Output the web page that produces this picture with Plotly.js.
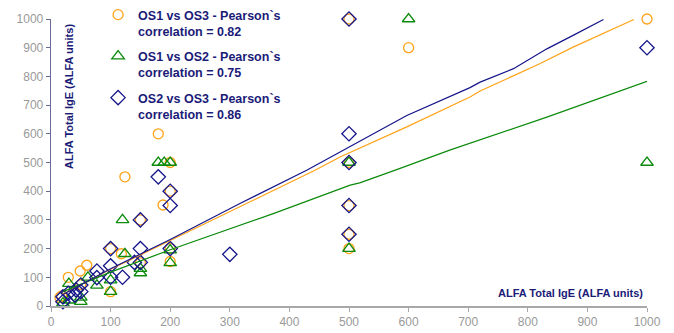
<!DOCTYPE html>
<html>
<head>
<meta charset="utf-8">
<script src="https://cdn.plot.ly/plotly-3.0.1.min.js"></script>
<style>html,body{margin:0;padding:0;background:#fff;}#chart{width:674px;height:333px;}</style>
</head>
<body>
<div id="chart"></div>
<script>
// ---- Data ----
var seriesNames = [
  "OS1 vs OS3 - Pearson`s<br>correlation = 0.82",
  "OS1 vs OS2 - Pearson`s<br>correlation = 0.75",
  "OS2 vs OS3 - Pearson`s<br>correlation = 0.86"
];
var axisTitle = "ALFA Total IgE (ALFA units)";
var tickVals = [0,100,200,300,400,500,600,700,800,900,1000];

// OS1 vs OS3 (orange circles)
var os13X = [1000, 600, 500, 500, 500, 500, 500, 180, 124, 188, 200, 200, 150, 100, 118, 100, 200, 200, 60, 49, 29, 18, 150, 50, 15];
var os13Y = [1000, 900, 1000, 500, 350, 250, 200, 600, 450, 352, 400, 500, 300, 200, 182, 50, 200, 155, 142, 122, 100, 35, 150, 75, 30];

// OS1 vs OS2 (green triangles)
var os12X = [600, 1000, 500, 500, 180, 190, 200, 120, 124, 200, 200, 150, 150, 100, 100, 77, 62, 30, 20, 30, 50, 50];
var os12Y = [1000, 500, 500, 200, 500, 500, 500, 300, 182, 195, 150, 130, 115, 90, 50, 72, 100, 78, 10, 20, 15, 30];

// OS2 vs OS3 (navy diamonds)
var os23X = [500, 1000, 500, 500, 500, 500, 300, 180, 200, 200, 150, 100, 150, 200, 150, 140, 120, 100, 100, 77, 77, 50, 50, 42, 40, 29, 20, 20];
var os23Y = [1000, 900, 600, 500, 350, 250, 180, 450, 400, 350, 300, 200, 200, 200, 152, 152, 100, 100, 140, 122, 99, 73, 50, 56, 38, 44, 32, 15];

// Fitted lines
var fit13X = [20, 100, 200, 317, 443, 485, 597, 703, 720, 820, 876, 978];
var fit13Y = [42, 128, 228, 345, 473, 519, 624, 728, 749, 844, 902, 998];
var fit12X = [20, 100, 200, 317, 373, 502, 518, 580, 669, 832, 1000];
var fit12Y = [50, 118, 196, 282, 322, 421, 429, 475, 543, 658, 783];
var fit23X = [20, 100, 200, 317, 429, 485, 541, 597, 703, 720, 776, 832, 876, 927];
var fit23Y = [40, 130, 232, 357, 473, 537, 601, 664, 761, 780, 827, 896, 943, 998];

// ---- Styles ----
var cOrange = "#FFA319", cGreen = "#0B8A0B", cNavy = "#15158A";
var txtNavy = "#1B1B78";

var sym = ["circle-open", "triangle-up-open", "diamond-open"];
var cols = [cOrange, cGreen, cNavy];
var xs = [os13X, os12X, os23X], ys = [os13Y, os12Y, os23Y];
var sizes = [10, 11, 11];
var groups = ["a", "b", "c"];

var traces = [];
for (var j = 0; j < 3; j++) {
  traces.push({x: xs[j], y: ys[j], type: "scatter", mode: "markers", name: seriesNames[j],
    legendgroup: groups[j], cliponaxis: false,
    marker: {symbol: sym[j], size: sizes[j], color: cols[j], line: {width: 1.3, color: cols[j]}}});
}
traces.push({x: fit13X, y: fit13Y, type: "scatter", mode: "lines", showlegend: false, line: {color: cOrange, width: 1.2}});
traces.push({x: fit12X, y: fit12Y, type: "scatter", mode: "lines", showlegend: false, line: {color: cGreen, width: 1.2}});
traces.push({x: fit23X, y: fit23Y, type: "scatter", mode: "lines", showlegend: false, line: {color: cNavy, width: 1.2}});

var layout = {
  width: 674, height: 333,
  margin: {l: 51, r: 27, t: 19, b: 27, pad: 0, autoexpand: false},
  paper_bgcolor: "#fff", plot_bgcolor: "#fff",
  font: {family: "Liberation Sans, Arial, sans-serif", size: 12, color: "#999"},
  showlegend: true,
  legend: {x: 0.079, xanchor: "left", xref: "paper", y: 1.0, yanchor: "top", yref: "container",
    valign: "top", bgcolor: "rgba(0,0,0,0)", tracegroupgap: 6, itemclick: false, itemdoubleclick: false,
    font: {family: "Liberation Sans, Arial, sans-serif", size: 12.5, color: txtNavy, weight: "bold"}},
  xaxis: {range: [0, 1000], tickvals: tickVals, showgrid: false, zeroline: false,
    showline: true, linecolor: "#A8A8A8", linewidth: 1.5, ticks: "outside", ticklen: 4,
    tickcolor: "#A8A8A8", tickfont: {color: "#999", size: 12}},
  yaxis: {range: [0, 1000], tickvals: tickVals, showgrid: false, zeroline: false,
    showline: true, linecolor: "#6A6A98", linewidth: 1.3, ticks: "outside", ticklen: 4,
    tickcolor: "#6A6A98", tickfont: {color: "#999", size: 12}},
  annotations: [
    {text: "<b>" + axisTitle + "</b>", xref: "paper", yref: "paper", x: 0.996, y: 0.045,
     xanchor: "right", yanchor: "middle", showarrow: false,
     font: {family: "Liberation Sans, Arial, sans-serif", size: 11, color: txtNavy}},
    {text: "<b>" + axisTitle + "</b>", xref: "paper", yref: "paper", x: 0.031, y: 0.73,
     xanchor: "center", yanchor: "middle", textangle: -90, showarrow: false,
     font: {family: "Liberation Sans, Arial, sans-serif", size: 11, color: txtNavy}}
  ]
};

Plotly.newPlot("chart", traces, layout, {displayModeBar: false, staticPlot: true});
</script>
</body>
</html>
